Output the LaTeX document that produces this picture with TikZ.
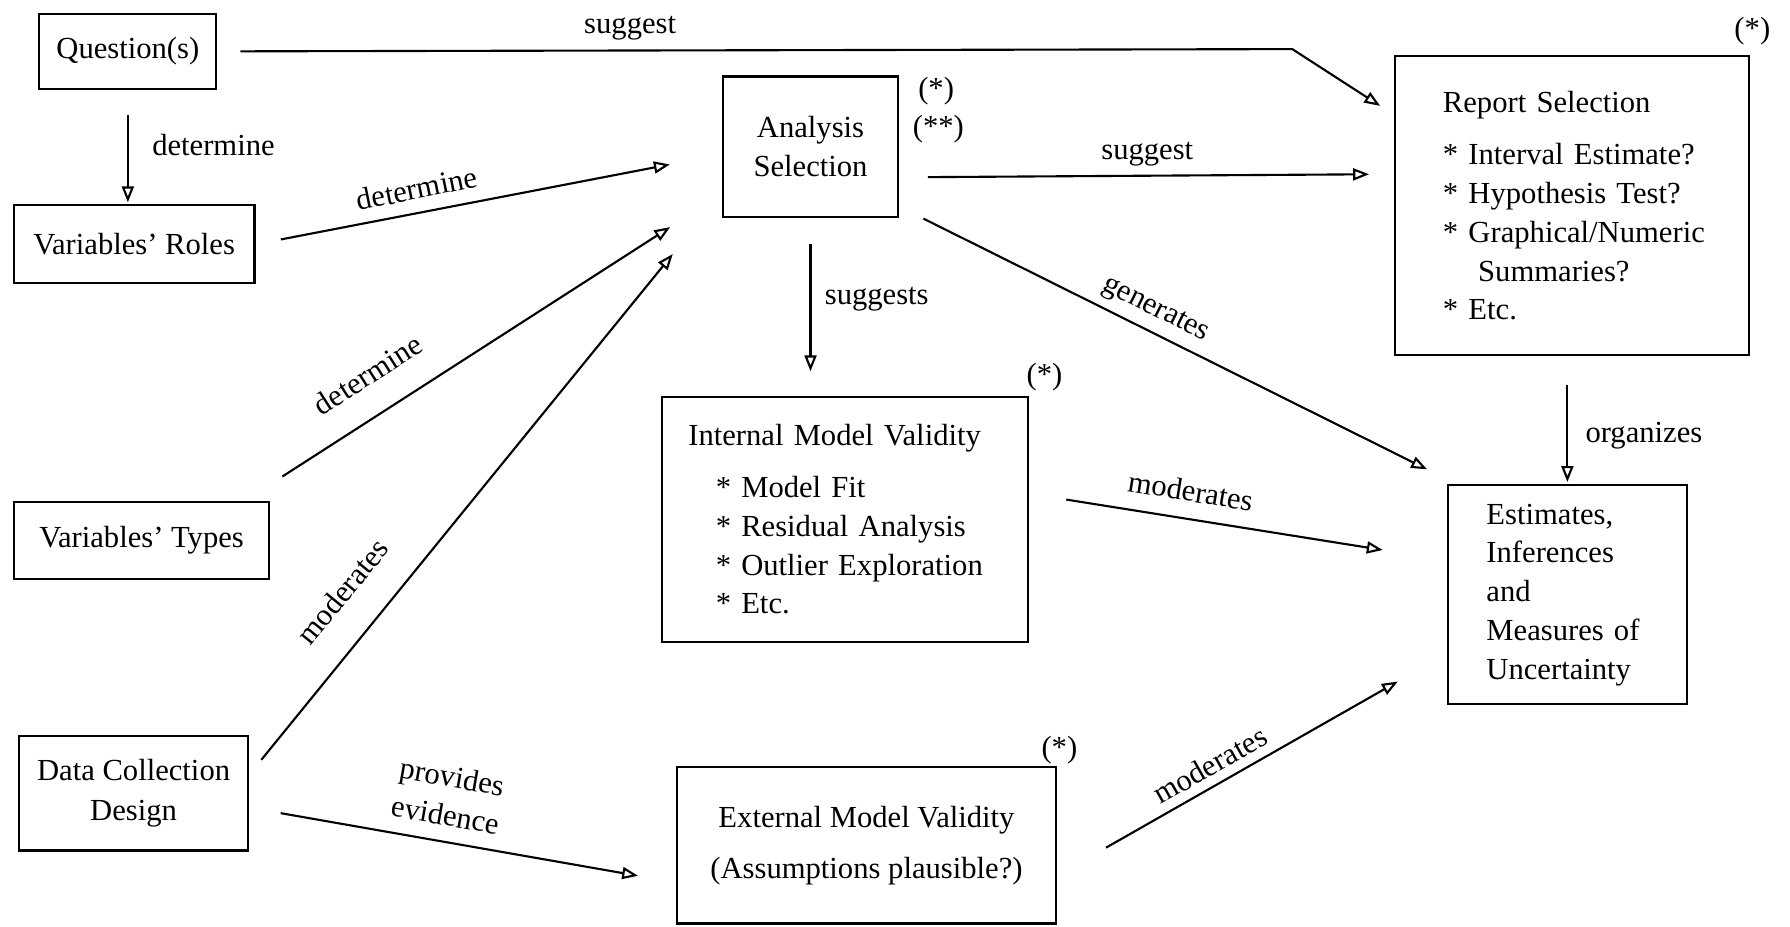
\documentclass[tikz,border=0pt]{standalone}
\usepackage{fontspec}
\setmainfont{Liberation Serif}
\usepackage{tikz}
\usetikzlibrary{arrows.meta}

\begin{document}
\begin{tikzpicture}[x=0.0114cm, y=-0.0114cm,
    every node/.style = {font=\fontsize{8.7pt}{11pt}\selectfont, inner sep=1pt},
    box/.style = {draw, line width=0.6pt, align=center},
    lbox/.style = {draw, line width=0.6pt, align=left},
    conn/.style = {line width=0.6pt, -{Triangle[open, length=4.5pt, width=3.4pt]}}
    ]
    \useasboundingbox (0,0) rectangle (1568,812);
    \node[box, minimum width=50.3pt, minimum height=21.4pt] (q) at (112,45) {Question(s)};
    \node[box, minimum width=68.4pt, minimum height=22.1pt] (roles) at (117.5,214) {Variables' Roles};
    \node[box, minimum width=72.6pt, minimum height=21.7pt] (types) at (124,473.5) {Variables' Types};
    \node[box, minimum width=64.9pt, minimum height=32.4pt] (design) at (117,695) {Data Collection\\[0.5pt]Design};
    \node[box, minimum width=49.9pt, minimum height=39.9pt] (anl) at (710,128.5) {Analysis\\Selection};
    \node[lbox, inner xsep=13.6pt, text width=73.3pt, minimum height=85pt] (rep) at (1377,180)
        {Report Selection\\[4pt]{}* Interval Estimate?\\{}* Hypothesis Test?\\\mbox{* Graphical/Numeric}\\\hspace*{10pt}Summaries?\\{}* Etc.};
    \node[lbox, inner xsep=7.5pt, text width=88.9pt, minimum height=69.4pt] (imv) at (740,455)
        {Internal Model Validity\\[3.7pt]\hspace*{7.8pt}* Model Fit\\\hspace*{7.8pt}* Residual Analysis\\\hspace*{7.8pt}* Outlier Exploration\\\hspace*{7.8pt}* Etc.};
    \node[box, minimum width=107.7pt, minimum height=44.4pt] (emv) at (759,740.5)
        {External Model Validity\\[3.5pt](Assumptions plausible?)};
    \node[lbox, inner xsep=11pt, text width=46pt, minimum height=62.3pt] (est) at (1373,521)
        {Estimates,\\Inferences\\and\\Measures of\\Uncertainty};
    \node (m1) at (820,80) {(*)};
    \node (m2) at (822,113) {(**)};
    \node (m3) at (1535,27) {(*)};
    \node (m4) at (915,330) {(*)};
    \node (m5) at (928,657) {(*)};
    \coordinate (qbend) at (1132,43);
    \draw[conn, shorten <=6.5pt, shorten >=4.7pt] (q.east) -- (qbend) -- (rep.153);
    \draw[conn, shorten <=7.1pt, shorten >=0.6pt] (q.south) -- (q.south |- roles.north);
    \draw[conn, shorten <=7.3pt, shorten >=15pt] (roles.east) -- (anl.185);
    \draw[conn, shorten <=13pt, shorten >=17.4pt] (types.21) -- (anl.208);
    \draw[conn, shorten <=5.6pt, shorten >=22pt] (design.9) -- (anl.208);
    \draw[conn, shorten <=9.2pt, shorten >=10.9pt] (design.-7) -- (emv.191);
    \draw[conn, shorten <=8.1pt, shorten >=7.1pt] (anl.341) -- (rep.170);
    \draw[conn, shorten <=7.5pt, shorten >=7.1pt] (anl.south) -- (anl.south |- imv.north);
    \draw[conn, shorten <=7.6pt, shorten >=9.4pt] (anl.326) -- (est.135);
    \draw[conn, shorten <=8.1pt, shorten >=0.6pt] (est.north |- rep.south) -- (est.north);
    \draw[conn, shorten <=10.8pt, shorten >=18.4pt] (imv.8) -- (est.164);
    \draw[conn, shorten <=16pt, shorten >=16pt] (emv.351) -- (est.206);
    \node (l1) at (552,25) {suggest};
    \node (l2) at (187,127) {determine};
    \node[rotate=11.4] (l3) at (365,165) {determine};
    \node[rotate=32.7] (l4) at (322,328) {determine};
    \node[rotate=50.7] (l5) at (300,518) {moderates};
    \node[rotate=-10, align=center] (l6) at (393,697) {provides\\evidence};
    \node (l7) at (1005,135) {suggest};
    \node (l8) at (768,262) {suggests};
    \node[rotate=-26.7] (l9) at (1012,272) {generates};
    \node (l10) at (1440,382) {organizes};
    \node[rotate=-9.2] (l11) at (1043,430) {moderates};
    \node[rotate=29.4] (l12) at (1060,670) {moderates};
\end{tikzpicture}
\end{document}
